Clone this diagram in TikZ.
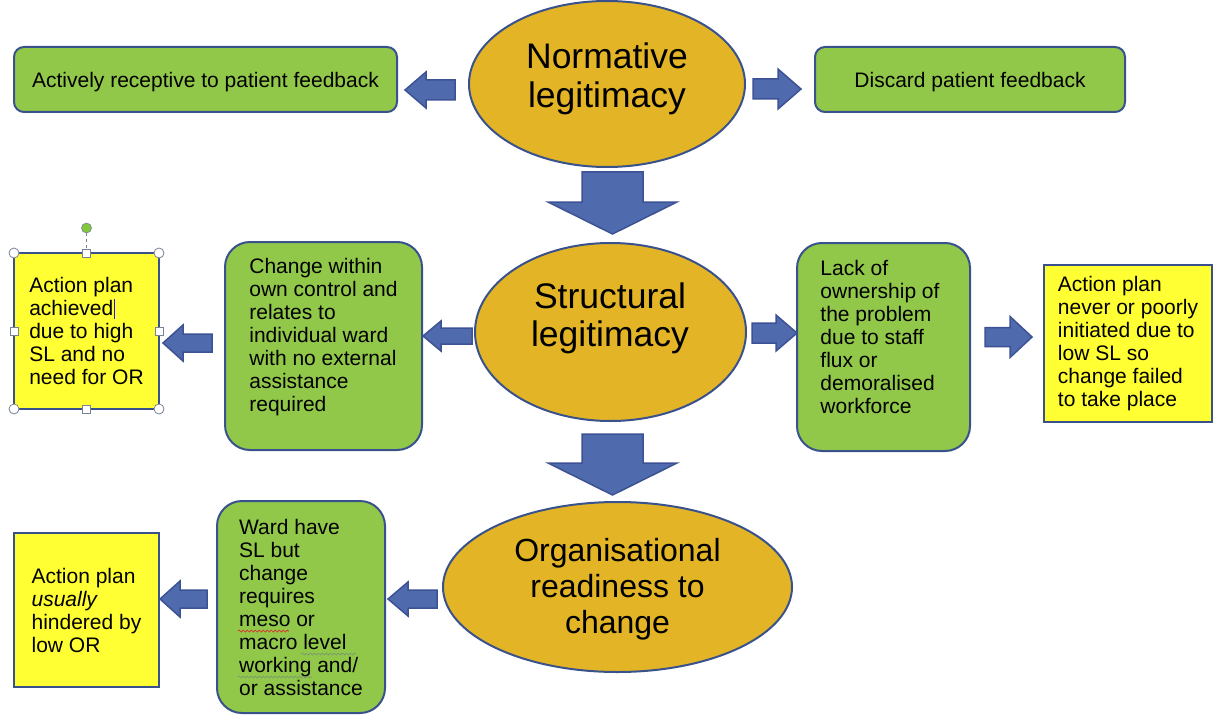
\documentclass[tikz,border=0pt]{standalone}
\usepackage{fontspec}
\setmainfont{Liberation Sans}
\usetikzlibrary{shapes.geometric,decorations.pathmorphing}

\definecolor{gfill}{RGB}{146,200,74}
\definecolor{edgeblue}{RGB}{58,82,140}
\definecolor{goldfill}{RGB}{227,181,38}
\definecolor{yfill}{RGB}{255,255,51}
\definecolor{afill}{RGB}{80,106,174}
\definecolor{aedge}{RGB}{60,82,148}
\definecolor{handlegray}{RGB}{120,130,150}
\definecolor{rotgreen}{RGB}{130,200,60}
\definecolor{cursorblue}{RGB}{30,30,220}
\definecolor{waveRed}{RGB}{220,40,40}
\definecolor{waveGray}{RGB}{120,150,110}

\newcommand{\blockH}[6]{\draw[blockarrow] ({#1},{#4}) -- ({#2},{#4-#6}) -- ({#2},{#4-#5}) -- ({#3},{#4-#5}) -- ({#3},{#4+#5}) -- ({#2},{#4+#5}) -- ({#2},{#4+#6}) -- cycle;}
\newcommand{\blockV}[6]{\draw[blockarrow] ({#4},{#1}) -- ({#4-#6},{#2}) -- ({#4-#5},{#2}) -- ({#4-#5},{#3}) -- ({#4+#5},{#3}) -- ({#4+#5},{#2}) -- ({#4+#6},{#2}) -- cycle;}

\tikzset{
  gbox/.style={draw=edgeblue, line width=2pt, fill=gfill, rounded corners=#1,
    inner sep=0pt, outer sep=0pt, align=left, font=\fontsize{21}{23}\selectfont},
  gbox/.default=10pt,
  ybox/.style={draw=edgeblue, line width=2pt, fill=yfill,
    inner sep=0pt, outer sep=0pt, align=left, font=\fontsize{21}{23}\selectfont},
  ell/.style={ellipse, draw=edgeblue, line width=2pt, fill=goldfill, inner sep=0pt, outer sep=0pt},
  etext/.style={align=center, inner sep=0pt},
  btext/.style={align=left, inner sep=0pt, font=\fontsize{21}{23}\selectfont},
  blockarrow/.style={fill=afill, draw=aedge, line width=1.5pt, line join=miter},
  cornerhandle/.style={circle, draw=handlegray, fill=white, line width=0.8pt, minimum size=10pt, inner sep=0pt},
  sidehandle/.style={rectangle, draw=handlegray, fill=white, line width=0.8pt, minimum size=8pt, inner sep=0pt},
  wavy/.style={decorate, decoration={snake, amplitude=1pt, segment length=4pt}, line width=0.7pt},
}

\begin{document}
\begin{tikzpicture}[x=1pt,y=-1pt]
\useasboundingbox (0,0) rectangle (1214,714);
\fill[white] (0,0) rectangle (1214,714);

% top row
\node[gbox, minimum width=383pt, minimum height=65pt, text depth=0pt] (ga) at (205.5,79.5) {Actively receptive to patient feedback};
\node[gbox, minimum width=310pt, minimum height=65pt, text depth=0pt] (gd) at (970,79.5) {Discard patient feedback};
\node[ell, minimum width=276pt, minimum height=166pt] (nl) at (607,84) {};
\node[etext, font=\fontsize{35.5}{39}\selectfont] (nlt) at (607,79) {Normative\\legitimacy};

% middle row
\node[ybox, minimum width=145pt, minimum height=156pt] (ya) at (86.5,331)
  {Action plan\\achieved\kern0.5pt\textcolor{cursorblue}{\rule[-3pt]{1.5pt}{20pt}}\\due to high\\SL and no\\need for OR};
\node[gbox=25pt, minimum width=197pt, minimum height=208pt] (gc) at (323.5,346) {};
\node[btext] (gct) at (323.5,337) {Change within\\own control and\\relates to\\individual ward\\with no external\\assistance\\required};
\node[ell, minimum width=271pt, minimum height=178pt] (sl) at (610.5,332) {};
\node[etext, font=\fontsize{35.5}{38}\selectfont] (slt) at (610,318) {Structural\\legitimacy};
\node[gbox=25pt, minimum width=173pt, minimum height=208pt] (gl) at (883.5,347) {};
\node[btext] (glt) at (880,337) {Lack of\\ownership of\\the problem\\due to staff\\flux or\\demoralised\\workforce};
\node[ybox, minimum width=168pt, minimum height=157pt] (yn) at (1128,343.5)
  {Action plan\\never or poorly\\initiated due to\\low SL so\\change failed\\to take place};

% bottom row
\node[ybox, minimum width=145pt, minimum height=154pt] (yu) at (86.5,610)
  {Action plan\\\textit{usually}\\hindered by\\low OR};
\node[gbox=25pt, minimum width=168pt, minimum height=212pt] (gw) at (301,607)
  {Ward have\\SL but\\change\\requires\\meso or\\macro level\\working and/\\or assistance};
\node[ell, minimum width=349pt, minimum height=170pt] (ol) at (617.5,587) {};
\node[etext, font=\fontsize{32}{36}\selectfont] (olt) at (617.5,589) {Organisational\\readiness to\\change};

% spelling / grammar marks
\coordinate (w1a) at (238,631); \coordinate (w1b) at (289,631);
\coordinate (w2a) at (301,654); \coordinate (w2b) at (356,654);
\coordinate (w3a) at (238,677); \coordinate (w3b) at (312,677);
\draw[wavy, waveRed] (w1a) -- (w1b);
\draw[wavy, waveGray] (w2a) -- (w2b);
\draw[wavy, waveGray] (w3a) -- (w3b);

% block arrows
\blockH{405}{426}{455}{90}{10}{18}
\blockH{801}{778}{753}{89}{10}{20}
\blockH{163}{183}{212}{343}{9}{18}
\blockH{423}{441}{472}{336}{8}{15}
\blockH{797}{776}{752}{333}{10}{18}
\blockH{1032}{1010}{985}{337}{9.5}{20.5}
\blockH{160}{180}{207}{599}{9}{18}
\blockH{388}{408}{437}{599}{9}{17}
\blockV{234}{202}{172}{612.5}{30.5}{64.5}
\blockV{495}{463}{434}{612.5}{30.5}{64.5}

% selection handles on the first yellow box
\coordinate (rot) at (86.5,228);
\draw[handlegray, line width=0.8pt, dashed] ([yshift=-5pt]rot) -- (ya.north);
\node[circle, draw=handlegray, fill=rotgreen, line width=0.6pt, minimum size=10pt, inner sep=0pt] (rh) at (rot) {};
\node[cornerhandle] (h1) at (ya.north west) {};
\node[cornerhandle] (h2) at (ya.north east) {};
\node[cornerhandle] (h3) at (ya.south west) {};
\node[cornerhandle] (h4) at (ya.south east) {};
\node[sidehandle] (h5) at (ya.north) {};
\node[sidehandle] (h6) at (ya.south) {};
\node[sidehandle] (h7) at (ya.west) {};
\node[sidehandle] (h8) at (ya.east) {};
\end{tikzpicture}
\end{document}
